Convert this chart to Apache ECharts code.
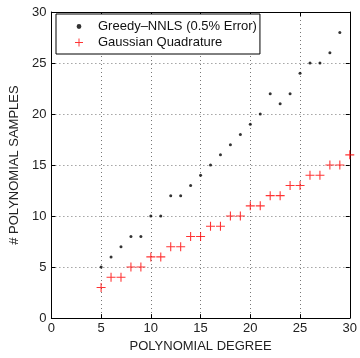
<!DOCTYPE html>
<html><head><meta charset="utf-8">
<script src="https://cdn.jsdelivr.net/npm/echarts@6/dist/echarts.min.js"></script>
<style>html,body{margin:0;padding:0;background:#fff}#c{width:360px;height:358px}</style>
</head><body><div id="c"></div>
<script>
const greedyX = [5,6,7,8,9,10,11,12,13,14,15,16,17,18,19,20,21,22,23,24,25,26,27,28,29];
const greedyY = [5,6,7,8,8,10,10,12,12,13,14,15,16,17,18,19,20,22,21,22,24,25,25,26,28];
const gaussX = [5,6,7,8,9,10,11,12,13,14,15,16,17,18,19,20,21,22,23,24,25,26,27,28,29,30];
const gaussY = [3,4,4,5,5,6,6,7,7,8,8,9,9,10,10,11,11,12,12,13,13,14,14,15,15,16];
const seriesNames = ['Greedy\u2013NNLS (0.5% Error)', 'Gaussian Quadrature'];
const xTitle = 'POLYNOMIAL DEGREE';
const yTitle = '# POLYNOMIAL SAMPLES';

const plus = 'path://M4.4,0h1.2v4.4h4.4v1.2h-4.4v4.4h-1.2v-4.4h-4.4v-1.2h4.4z';
const legendDot = 'path://M0,0M10,10M5,2A3,3,0,1,1,4.99,2Z';
const font = 'Liberation Sans, Arial, sans-serif';
const chart = echarts.init(document.getElementById('c'), null, {renderer:'canvas'});
const axisCommon = {
  min:0, max:30, interval:5,
  axisLine:{show:true, onZero:false, lineStyle:{color:'#000', width:1}},
  axisTick:{show:true, inside:true, length:4, lineStyle:{color:'#000'}},
};
chart.setOption({
  animation:false,
  grid:{left:51, right:9, top:12, bottom:30, containLabel:false},
  legend:{
    orient:'vertical', left:56, top:14,
    borderColor:'#000', borderWidth:1, backgroundColor:'#fff',
    padding:[6,3,5,19], itemGap:3, itemWidth:8, itemHeight:8,
    textStyle:{fontFamily:font, fontSize:13, color:'#111', padding:[0,0,0,10]},
    data:[{name:seriesNames[0], icon:legendDot},
          {name:seriesNames[1], icon:plus}]
  },
  xAxis:[
    Object.assign({type:'value', position:'bottom',
      name:xTitle, nameLocation:'middle', nameGap:19,
      nameTextStyle:{fontFamily:font, fontSize:13, color:'#222'},
      axisLabel:{fontFamily:font, fontSize:13, color:'#222', margin:4},
      splitLine:{show:true, lineStyle:{type:[1,3], color:'#777', width:1}}
    }, axisCommon),
    Object.assign({type:'value', position:'top', axisLabel:{show:false}, splitLine:{show:false}}, axisCommon)
  ],
  yAxis:[
    Object.assign({type:'value', position:'left',
      name:yTitle, nameLocation:'middle', nameGap:22,
      nameTextStyle:{fontFamily:font, fontSize:13, color:'#222'},
      axisLabel:{fontFamily:font, fontSize:13, color:'#222', margin:5},
      splitLine:{show:true, lineStyle:{type:[1,3], color:'#777', width:1}}
    }, axisCommon),
    Object.assign({type:'value', position:'right', axisLabel:{show:false}, splitLine:{show:false}}, axisCommon)
  ],
  series:[
    {name:seriesNames[0], type:'scatter', symbol:'circle', symbolSize:3,
     itemStyle:{color:'#000'}, data:greedyX.map((x,i)=>[x,greedyY[i]])},
    {name:seriesNames[1], type:'scatter', symbol:plus, symbolSize:9,
     itemStyle:{color:'#ff0000'}, data:gaussX.map((x,i)=>[x,gaussY[i]])}
  ]
});
</script></body></html>
